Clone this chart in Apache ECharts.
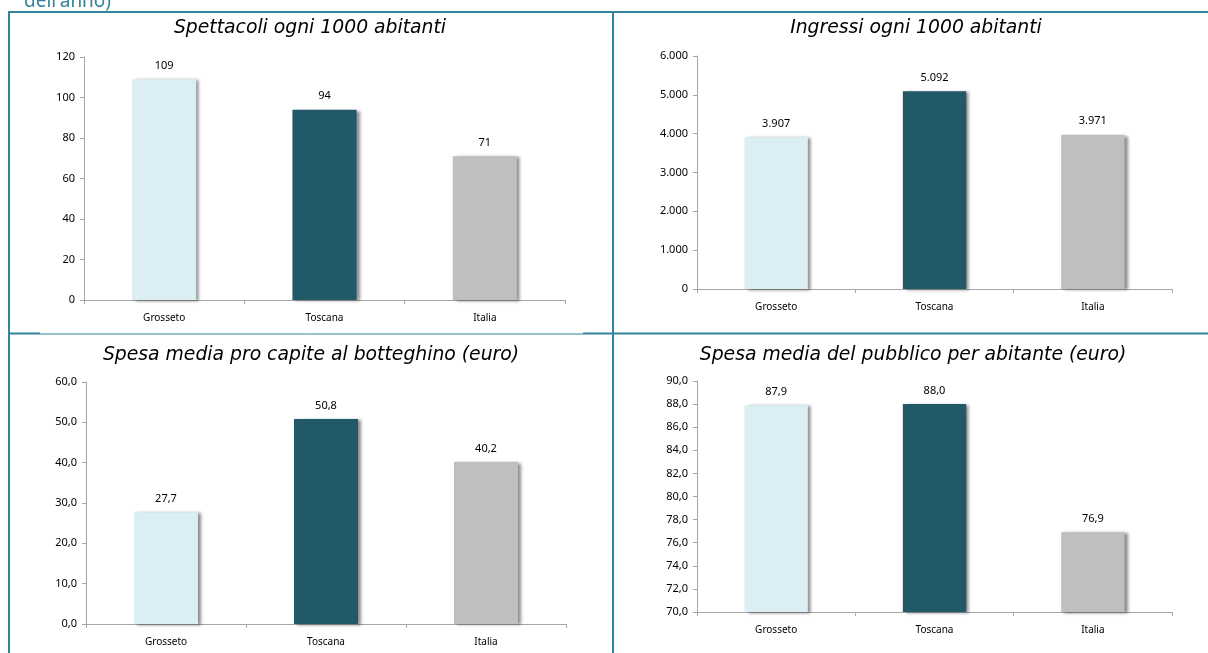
<!DOCTYPE html>
<html>
<head>
<meta charset="utf-8">
<style>
  html, body { margin: 0; padding: 0; background: #fff; }
  #chart { width: 1208px; height: 653px; }
</style>
<script src="https://cdn.jsdelivr.net/npm/echarts@6/dist/echarts.min.js"></script>
</head>
<body>
<div id="chart"></div>
<script>
// Categories shared by all four panels
const categories = ['Grosseto', 'Toscana', 'Italia'];

// Panel values
const spettacoli = [109, 94, 71];          // spettacoli ogni 1000 abitanti
const ingressi = [3907, 5092, 3971];       // ingressi ogni 1000 abitanti
const spesaBotteghino = [27.7, 50.8, 40.2]; // euro pro capite
const spesaPubblico = [87.9, 88.0, 76.9];   // euro per abitante

const titles = [
  'Spettacoli ogni 1000 abitanti',
  'Ingressi ogni 1000 abitanti',
  'Spesa media pro capite al botteghino (euro)',
  'Spesa media del pubblico per abitante (euro)'
];

const barColors = ['#DAEEF3', '#215968', '#BFBFBF'];
const frameColor = '#31849B';
const axisGray = '#A6A6A6';
const font = 'Noto Sans';
const titleFont = 'DejaVu Sans';

const fmtInt = v => Math.round(v).toString().replace(/\B(?=(\d{3})+(?!\d))/g, '.');
const fmtDec = v => v.toFixed(1).replace('.', ',');

const panels = [
  { data: spettacoli, min: 0, max: 120, interval: 20, fmt: fmtInt,
    grid: { left: 84, top: 57, width: 481, height: 243 }, titlePos: [310, 28] },
  { data: ingressi, min: 0, max: 6000, interval: 1000, fmt: fmtInt,
    grid: { left: 697, top: 56, width: 475, height: 233 }, titlePos: [916, 28] },
  { data: spesaBotteghino, min: 0, max: 60, interval: 10, fmt: fmtDec,
    grid: { left: 86, top: 382, width: 480, height: 242 }, titlePos: [311, 355] },
  { data: spesaPubblico, min: 70, max: 90, interval: 2, fmt: fmtDec,
    grid: { left: 697, top: 381, width: 475, height: 231 }, titlePos: [913, 355] }
];

const grids = [], xAxes = [], yAxes = [], series = [], graphics = [];

panels.forEach((p, i) => {
  grids.push(Object.assign({ containLabel: false }, p.grid));
  xAxes.push({
    type: 'category', gridIndex: i, data: categories,
    axisLine: { lineStyle: { color: axisGray, width: 1 } },
    axisTick: { show: true, length: 4, lineStyle: { color: axisGray } },
    axisLabel: { color: '#000', fontFamily: font, fontSize: 10, margin: 13 }
  });
  yAxes.push({
    type: 'value', gridIndex: i, min: p.min, max: p.max, interval: p.interval,
    splitLine: { show: false },
    axisLine: { show: true, lineStyle: { color: axisGray, width: 1 } },
    axisTick: { show: true, length: 4, lineStyle: { color: axisGray } },
    axisLabel: { color: '#000', fontFamily: font, fontSize: 11, margin: 9,
                 formatter: v => p.fmt(v) }
  });
  series.push({
    type: 'bar', xAxisIndex: i, yAxisIndex: i, barWidth: '40%',
    data: p.data.map((v, k) => ({
      value: v,
      itemStyle: {
        color: barColors[k],
        shadowColor: 'rgba(0,0,0,0.45)', shadowBlur: 3,
        shadowOffsetX: 3, shadowOffsetY: 1
      }
    })),
    label: { show: true, position: 'top', distance: 8, color: '#000',
             fontFamily: font, fontSize: 11, formatter: o => p.fmt(o.value) }
  });
  graphics.push({
    type: 'text', x: p.titlePos[0], y: p.titlePos[1],
    style: { text: titles[i], fill: '#000', fontFamily: titleFont, fontStyle: 'italic',
             fontSize: 18.8, textAlign: 'center', textVerticalAlign: 'middle' }
  });
});

// Frame lines around the four panels
const frameLine = (x1, y1, x2, y2, w) => ({
  type: 'line', shape: { x1, y1, x2, y2 },
  style: { stroke: frameColor, lineWidth: w }, z: 10
});
graphics.push(
  frameLine(8, 12, 1208, 12, 2),
  frameLine(9, 12, 9, 653, 2),
  frameLine(613, 12, 613, 653, 2),
  frameLine(8, 333.5, 40, 333.5, 2),
  frameLine(40, 334, 583, 334, 1),
  frameLine(583, 333.5, 1208, 333.5, 2)
);

// Tail of the caption line above the frame
graphics.push({
  type: 'text', x: 24, y: 11,
  style: { text: "dell'anno)", fill: frameColor, fontFamily: font, fontSize: 19,
           textAlign: 'left', textVerticalAlign: 'bottom' }
});

const chart = echarts.init(document.getElementById('chart'), null, { renderer: 'canvas' });
chart.setOption({
  animation: false,
  backgroundColor: '#fff',
  grid: grids, xAxis: xAxes, yAxis: yAxes, series: series, graphic: graphics
});
</script>
</body>
</html>
